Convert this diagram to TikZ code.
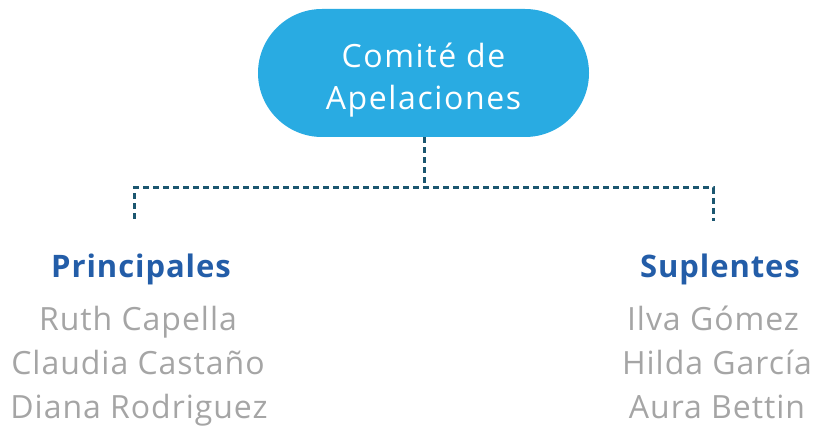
\documentclass[tikz,border=0pt]{standalone}
\usepackage{fontspec}
\setmainfont{Open Sans}
\newfontfamily\pillfont[LetterSpace=5]{Open Sans}
\newfontfamily\headfont[LetterSpace=3]{Open Sans}
\newfontfamily\namefont[LetterSpace=3]{Open Sans}
\definecolor{pill}{HTML}{29ABE2}
\definecolor{head}{HTML}{235DA8}
\definecolor{namec}{HTML}{A5A5A5}
\definecolor{dash}{HTML}{1B5670}
\begin{document}
\begin{tikzpicture}[x=1pt,y=-1pt,
  pillbox/.style={fill=pill, rounded corners=64pt, minimum width=331pt, minimum height=128pt, inner sep=0pt},
  pilltxt/.style={text=white, font=\pillfont\fontsize{32}{40}\selectfont, anchor=base, inner sep=0pt},
  headtxt/.style={text=head, font=\headfont\fontsize{31}{33}\selectfont\bfseries, anchor=base, inner sep=0pt},
  nametxt/.style={text=namec, font=\namefont\fontsize{32}{34}\selectfont, anchor=base, inner sep=0pt},
  conn/.style={draw=dash, line width=3pt, dash pattern=on 6pt off 4pt}]
\useasboundingbox (0,0) rectangle (814,427);
\node[pillbox] (top) at (423.5,73) {};
\node[pilltxt] (t1) at (423.5,68) {Comité de};
\node[pilltxt] (t2) at (423.5,110) {Apelaciones};
\coordinate (mid) at (424,188);
\coordinate (lc) at (134,188);
\coordinate (rc) at (713,188);
\coordinate (lb) at (134,219);
\coordinate (rb) at (713,221);
\draw[conn] (top.south -| mid) -- (mid);
\draw[conn] (lb) -- (lc) -- (rc) -- (rb);
\node[headtxt] (p) at (141,278) {Principales};
\node[headtxt] (s) at (720,278) {Suplentes};
\node[nametxt] (p1) at (138,331) {Ruth Capella};
\node[nametxt] (p2) at (138,375) {Claudia Castaño};
\node[nametxt] (p3) at (139,418) {Diana Rodriguez};
\node[nametxt] (s1) at (713,331) {Ilva Gómez};
\node[nametxt] (s2) at (717,375) {Hilda García};
\node[nametxt] (s3) at (717,418) {Aura Bettin};
\end{tikzpicture}
\end{document}
